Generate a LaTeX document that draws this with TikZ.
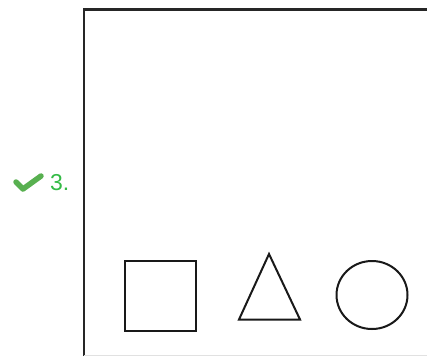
\documentclass[tikz,border=0pt]{standalone}
\usepackage{fontspec}
\setmainfont{Liberation Sans}
\definecolor{okgreen}{RGB}{52,186,70}
\definecolor{checkgreen}{RGB}{88,176,80}
\definecolor{edgegray}{RGB}{225,225,225}
\begin{document}
\begin{tikzpicture}[x=1pt,y=-1pt,
  frameline/.style={line width=2.4pt,black!85},
  shapeline/.style={line width=2pt,black!90},
  lbl/.style={font=\fontsize{23}{26}\selectfont,text=okgreen,inner sep=0pt,anchor=west}]
\useasboundingbox (0,0) rectangle (427,356);
% frame
\draw[frameline] (84,356) coordinate (fbl) -- (84,9.5) coordinate (ftl) -- (427,9.5) coordinate (ftr);
\draw[edgegray,line width=0.8pt] (84,355.5) -- (427,355.5);
% check mark and label
\draw[checkgreen,line width=5.5pt,line cap=round,line join=round] (16,182) -- (23,189) -- (41,176);
\node[lbl] (num) at (50,182.5) {3.};
% shapes
\node[draw,shapeline,minimum width=71pt,minimum height=70pt,inner sep=0pt] (sq) at (160,296) {};
\draw[shapeline,line join=miter] (269,254) coordinate (tapex) -- (300,319.5) coordinate (tr) -- (239,319.5) coordinate (tl) -- cycle;
\draw[shapeline] (372,295) ellipse [x radius=35.5, y radius=34];
\end{tikzpicture}
\end{document}
